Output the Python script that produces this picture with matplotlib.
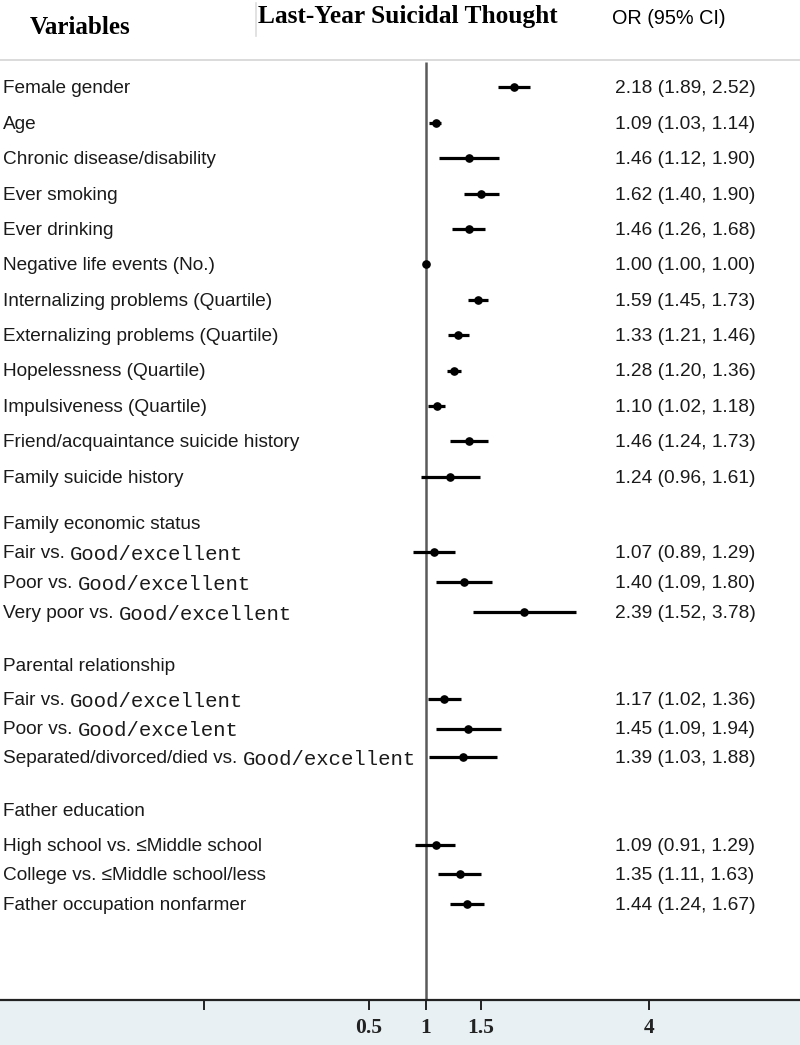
#!/usr/bin/env python3
# forest plot: odds ratios for last-year suicidal thought
import matplotlib
matplotlib.use('Agg')
import matplotlib.pyplot as plt
import matplotlib.transforms as mtrans
import numpy as np

# row labels: (plain text part, part set in the mono/serif font)
labels = [
    ('Female gender', ''),
    ('Age', ''),
    ('Chronic disease/disability', ''),
    ('Ever smoking', ''),
    ('Ever drinking', ''),
    ('Negative life events (No.)', ''),
    ('Internalizing problems (Quartile)', ''),
    ('Externalizing problems (Quartile)', ''),
    ('Hopelessness (Quartile)', ''),
    ('Impulsiveness (Quartile)', ''),
    ('Friend/acquaintance suicide history', ''),
    ('Family suicide history', ''),
    ('Fair vs. ', 'Good/excellent'),
    ('Poor vs. ', 'Good/excellent'),
    ('Very poor vs. ', 'Good/excellent'),
    ('Fair vs. ', 'Good/excellent'),
    ('Poor vs. ', 'Good/excelent'),
    ('Separated/divorced/died vs. ', 'Good/excellent'),
    ('High school vs. \u2264Middle school', ''),
    ('College vs. \u2264Middle school/less', ''),
    ('Father occupation nonfarmer', ''),
]
odds = [2.18, 1.09, 1.46, 1.62, 1.46, 1.00, 1.59, 1.33, 1.28, 1.10, 1.46, 1.24,
        1.07, 1.40, 2.39, 1.17, 1.45, 1.39, 1.09, 1.35, 1.44]
ci_lo = [1.89, 1.03, 1.12, 1.40, 1.26, 1.00, 1.45, 1.21, 1.20, 1.02, 1.24, 0.96,
         0.89, 1.09, 1.52, 1.02, 1.09, 1.03, 0.91, 1.11, 1.24]
ci_hi = [2.52, 1.14, 1.90, 1.90, 1.68, 1.00, 1.73, 1.46, 1.36, 1.18, 1.73, 1.61,
         1.29, 1.80, 3.78, 1.36, 1.94, 1.88, 1.29, 1.63, 1.67]
groups = ['Family economic status', 'Parental relationship', 'Father education']

# x ticks as they sit in the original figure (its labels do not follow the scale)
tick_vals = [0.140, 0.604, 1.0, 1.627, 7.20]
tick_labels = ['', '0.5', '1', '1.5', '4']

# layout (row positions in pixel rows from the top)
row_y = list(87.3 + 35.4 * np.arange(12)) + [552, 582, 612, 699, 728.5, 757,
                                             845, 874, 904]
group_y = [523, 665, 810]
text_dy = 1.5  # text sits a touch lower than its mark

sans = ['Liberation Sans', 'DejaVu Sans']
serif = ['Liberation Serif', 'DejaVu Serif']
mono = ['Liberation Mono', 'DejaVu Sans Mono']

W, H = 800, 1045
axis_px = 1000
fig = plt.figure(figsize=(W / 100, H / 100), dpi=100, facecolor='#e8f0f3')
ax = fig.add_axes([0, (H - axis_px) / H, 1, axis_px / H])
ax.set_facecolor('white')
ax.set_xscale('log')
ax.set_xlim(np.exp(-426 / 113), np.exp(374 / 113))
ax.set_ylim(axis_px, 0)

for s in ['top', 'left', 'right']:
    ax.spines[s].set_visible(False)
ax.spines['bottom'].set_linewidth(1.6)
ax.spines['bottom'].set_color('#222222')
ax.set_yticks([])
ax.minorticks_off()
ax.set_xticks(tick_vals)
ax.set_xticklabels(tick_labels, fontfamily=serif, fontweight='bold', fontsize=15.5)
ax.tick_params(axis='x', direction='out', length=7, width=1.4, pad=6,
               colors='#222222')

# reference line and header separator
ax.vlines(1.0, 62, axis_px, color='#5a5a5a', lw=1.8)
ax.axhline(60, color='#d4d4d4', lw=1.2)
fig.add_artist(plt.Line2D([256 / W, 256 / W], [1 - 3 / H, 1 - 36 / H],
                          color='#dddddd', lw=1.2))

# confidence intervals and point estimates
ax.hlines(row_y, ci_lo, ci_hi, color='black', lw=2.3)
ax.plot(odds, row_y, 'o', color='black', ms=5.2)

trans = mtrans.blended_transform_factory(ax.transAxes, ax.transData)
fig.canvas.draw()
renderer = fig.canvas.get_renderer()
for (plain, special), y, o, l, h in zip(labels, row_y, odds, ci_lo, ci_hi):
    ty = y + text_dy
    t = ax.text(3 / W, ty, plain, transform=trans, ha='left', va='center',
                fontfamily=sans, fontsize=13.7, color='#1a1a1a')
    if special:
        bb = t.get_window_extent(renderer)
        ax.text(bb.x1 / W, ty + 1, special, transform=trans, ha='left',
                va='center', fontfamily=mono, fontsize=14.9, color='#1a1a1a')
    ax.text(615 / W, ty, f'{o:.2f} ({l:.2f}, {h:.2f})', transform=trans,
            ha='left', va='center', fontfamily=sans, fontsize=13.8,
            color='#1a1a1a')

for g, y in zip(groups, group_y):
    ax.text(3 / W, y + text_dy, g, transform=trans, ha='left', va='center',
            fontfamily=sans, fontsize=13.7, color='#1a1a1a')

# column headers
fig.text(30 / W, 1 - 27 / H, 'Variables', ha='left', va='center',
         fontfamily=serif, fontweight='bold', fontsize=18.1)
fig.text(258 / W, 1 - 16 / H, 'Last-Year Suicidal Thought', ha='left',
         va='center', fontfamily=serif, fontweight='bold', fontsize=18.3)
fig.text(612 / W, 1 - 18 / H, 'OR (95% CI)', ha='left', va='center',
         fontfamily=sans, fontsize=14.3)

fig.savefig('out.png', dpi=100, facecolor=fig.get_facecolor())
